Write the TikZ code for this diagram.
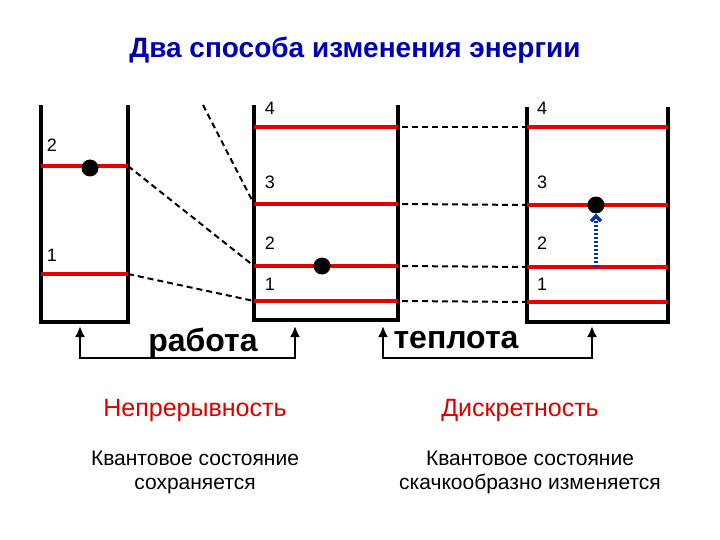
\documentclass[tikz,border=0pt]{standalone}
\usepackage{fontspec}
\setmainfont{Liberation Sans}
\usetikzlibrary{arrows.meta}
\begin{document}
\begin{tikzpicture}[x=1pt,y=-1pt,
  wall/.style={line width=4pt},
  lvl/.style={red!90!black,line width=4.5pt},
  dsh/.style={dash pattern=on 6pt off 4pt,line width=2pt},
  lab/.style={font=\fontsize{18}{20}\selectfont},
  dot/.style={circle,fill=black,minimum size=17pt,inner sep=0pt},
  arr/.style={line width=2.5pt,-{Latex[length=11pt,width=10pt]}}]
\useasboundingbox (0,0) rectangle (720,540);
\node[font=\bfseries\fontsize{28}{32}\selectfont,text=blue!70!black] (title) at (355,50) {Два способа изменения энергии};
% box 1
\draw[wall] (41,105) -- (41,322) -- (128,322) -- (128,105);
\draw[lvl] (41,166) -- (128,166) coordinate (a2);
\draw[lvl] (41,274) -- (128,274) coordinate (a1);
\node[lab] at (52,145) {2};
\node[lab] at (52,255) {1};
\node[dot] (d1) at (90,168) {};
% box 2
\draw[wall] (254,105) -- (254,320) -- (398,320) -- (398,105);
\foreach \y/\n in {127/4,204/3,266/2,301/1}{
  \draw[lvl] (254,\y) coordinate (bl\n) -- (398,\y) coordinate (br\n);
}
\foreach \y/\n in {108/4,182/3,243/2,284/1}{\node[lab] at (270,\y) {\n};}
\node[dot] (d2) at (322,266) {};
% box 3
\draw[wall] (527,107) -- (527,322) -- (668,322) -- (668,107);
\foreach \y/\n in {127/4,205/3,267/2,302/1}{
  \draw[lvl] (527,\y) coordinate (cl\n) -- (668,\y);
}
\foreach \y/\n in {108/4,182/3,243/2,284/1}{\node[lab] at (542,\y) {\n};}
\node[dot] (d3) at (596,205) {};
\coordinate (bs) at (596,267);
\draw[blue!60!black!80!cyan,line width=3.5pt,dash pattern=on 2pt off 2pt,-{Straight Barb[length=5pt,width=10pt]}] (bs) -- (d3);
% dashed connectors
\coordinate (t0) at (203,105);
\draw[dsh] (a2) -- (bl2);
\draw[dsh] (a1) -- (bl1);
\draw[dsh] (t0) -- (bl3);
\foreach \n in {4,3,2,1}{\draw[dsh] (br\n) ++(4,0) -- (cl\n);}
% arrows
\coordinate (p1) at (80,358); \coordinate (q1) at (80,326);
\coordinate (p2) at (295,358); \coordinate (q2) at (295,326);
\coordinate (p3) at (383,358); \coordinate (q3) at (383,326);
\coordinate (p4) at (592,358); \coordinate (q4) at (592,326);
\draw[arr] (p2) -- (p1) -- (q1);
\draw[arr] (p1) -- (p2) -- (q2);
\draw[arr] (p4) -- (p3) -- (q3);
\draw[arr] (p3) -- (p4) -- (q4);
\node[font=\bfseries\fontsize{32}{36}\selectfont] (w) at (203,343) {работа};
\node[font=\bfseries\fontsize{32}{36}\selectfont] (h) at (456,340) {теплота};
\node[font=\fontsize{25}{28}\selectfont,text=red!85!black] (c1) at (195,410) {Непрерывность};
\node[font=\fontsize{25}{28}\selectfont,text=red!85!black] (c2) at (520,410) {Дискретность};
\node[font=\fontsize{21}{24}\selectfont,align=center] (s1) at (195,472) {Квантовое состояние\\сохраняется};
\node[font=\fontsize{21}{24}\selectfont,align=center] (s2) at (530,472) {Квантовое состояние\\скачкообразно изменяется};
\end{tikzpicture}
\end{document}
